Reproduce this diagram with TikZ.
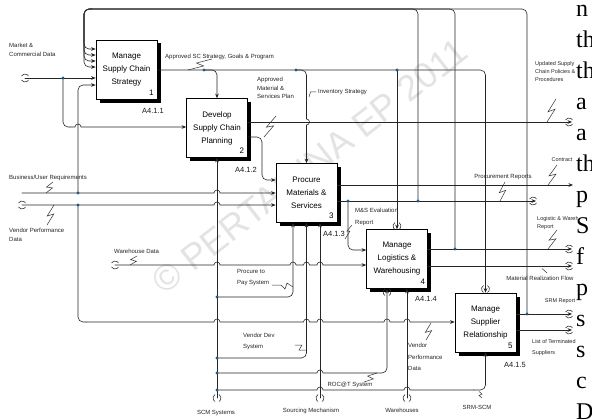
\documentclass[tikz,border=0pt]{standalone}
\usepackage{fontspec}
\setmainfont{Liberation Sans}
\newfontfamily\pagefont{Liberation Serif}
\usetikzlibrary{arrows.meta,calc,shadows}
\definecolor{dotblue}{HTML}{1F5A85}
\newcommand\tunH[2]{\draw[tun] (#1,#2) ++(-3.46,-2) arc(210:330:4) (#1,#2) ++(-3.46,2) arc(150:30:4);}
\newcommand\tunV[2]{\draw[tun] (#1,#2) ++(-2,-3.46) arc(240:120:4) (#1,#2) ++(2,-3.46) arc(-60:60:4);}
\newcommand\jd[1]{\fill[dotblue] (#1) circle (1.7);}
\newcommand\zz[4]{%
 \pgfmathsetmacro\zdx{#3-#1}\pgfmathsetmacro\zdy{#4-#2}%
 \pgfmathsetmacro\zl{veclen(\zdx,\zdy)}%
 \pgfmathsetmacro\zpx{-2.8*\zdy/\zl}\pgfmathsetmacro\zpy{2.8*\zdx/\zl}%
 \draw[sq] (#1,#2) -- ({#1+0.6*\zdx+\zpx},{#2+0.6*\zdy+\zpy}) -- ({#1+0.4*\zdx-\zpx},{#2+0.4*\zdy-\zpy}) -- (#3,#4);}
\begin{document}
\begin{tikzpicture}[x=1pt,y=-1pt,line cap=round,
  ln/.style={draw=black!85, line width=0.6pt, rounded corners=5pt},
  ar/.style={ln, -{Stealth[length=4.5pt,width=3.6pt]}},
  tun/.style={draw=black!85, line width=0.55pt},
  sq/.style={draw=black!80, line width=0.5pt, line join=miter},
  lbl/.style={font=\fontsize{6}{8.5}\selectfont, text=black!85, inner sep=0pt, align=left},
  rlbl/.style={lbl, font=\fontsize{5.5}{8}\selectfont},
  anum/.style={font=\fontsize{7.5}{9}\selectfont, text=black!90, inner sep=0pt},
  bnum/.style={font=\fontsize{8}{9}\selectfont, inner sep=0pt},
  box/.style={draw=black, line width=0.7pt, fill=white, minimum width=61pt, minimum height=59pt,
    inner sep=0pt, align=center, font=\fontsize{8}{13}\selectfont,
    general shadow={fill=black, shadow xshift=3.5pt, shadow yshift=-3.5pt}},
  pg/.style={font=\pagefont\fontsize{24}{24}\selectfont, anchor=base west, inner sep=0pt}]
\useasboundingbox (0,0) rectangle (592,420);
\fill[white] (0,0) rectangle (592,420);
% watermark
\node[font=\fontsize{36}{36}\selectfont, text=black!11, rotate=38, inner sep=0pt] (wm) at (310,166) {\textcopyright{} PERTAMINA EP 2011};
% boxes
\node[box] (b1) at (126.5,69.5) {Manage\\Supply Chain\\Strategy};
\node[box] (b2) at (217,128) {Develop\\Supply Chain\\Planning};
\node[box] (b3) at (306.5,193) {Procure\\Materials \&\\Services};
\node[box] (b4) at (397,259) {Manage\\Logistics \&\\Warehousing};
\node[box] (b5) at (485.5,322.5) {Manage\\Supplier\\Relationship};
\node[bnum] (n1) at ($(b1.south east)+(-6,-7)$) {1};
\node[bnum] (n2) at ($(b2.south east)+(-6,-7)$) {2};
\node[bnum] (n3) at ($(b3.south east)+(-6,-7)$) {3};
\node[bnum] (n4) at ($(b4.south east)+(-5,-7)$) {4};
\node[bnum] (n5) at ($(b5.south east)+(-6,-7)$) {5};
\node[anum] (a1) at (153,111) {A4.1.1};
\node[anum] (a2) at (246,170) {A4.1.2};
\node[anum] (a3) at (334,234) {A4.1.3};
\node[anum] (a4) at (426,299) {A4.1.4};
\node[anum] (a5) at (515,365) {A4.1.5};
% feedback over the top into box 1
\draw[ar] (527,314) -- (527,9) -- (84,9) -- (84,49) -- (b1.west|-0,49);
\draw[ar] (455,249) -- (455,9) -- (84,9) -- (84,55) -- (b1.west|-0,55);
\draw[ar] (418,201) -- (418,9) -- (84,9) -- (84,61) -- (b1.west|-0,61);
\draw[ar] (92,9) -- (84,9) -- (84,67) -- (b1.west|-0,67);
% market data
\draw[ar] (25,78) -- (b1.west|-0,78);
\draw[ln] (63,78) -- (63,127) -- (70,127);
\draw[ar,sharp corners] (70,127) -- (75,127) arc(180:360:3) -- (b2.west|-0,127);
% left inputs
\draw[ar] (78,193) -- (78,85) -- (b1.west|-0,85);
\draw[ar,sharp corners] (22,193) -- (214,193) arc(180:360:3) -- (b3.west|-0,193);
\draw[ar,sharp corners] (22,205) -- (214,205) arc(180:360:3) -- (b3.west|-0,205);
\draw[ln] (78,205) -- (78,322) -- (86,322);
\draw[ar,sharp corners] (86,322) -- (214,322) arc(180:360:3) -- (303.5,322) arc(180:360:3) -- (317,322) arc(180:360:3) -- (384,322) arc(180:360:3) -- (404,322) arc(180:360:3) -- (b5.west|-0,322);
% box 1 output and controls
\draw[ar] (b1.east|-0,70) -- (485.5,70) -- (b5.north);
\draw[ar] (204,70) -- (217,70) -- (b2.north);
\draw[ln] (296,70) -- (306.5,70) -- (306.5,110);
\draw[ar,sharp corners] (306.5,110) -- (306.5,119) arc(-90:90:3) -- (b3.north);
\draw[ar] (397,70) -- (b4.north);
% box 2 outputs
\draw[ar] (b2.east|-0,122) -- (572,122);
\draw[ar] (b2.east|-0,137) -- (262,137) -- (262,180) -- (b3.west|-0,180);
% box 3 outputs
\draw[ar] (b3.east|-0,185) -- (573,185);
\draw[ar] (b3.east|-0,201) -- (536,201);
\draw[ar] (348,201) -- (348,250) -- (b4.west|-0,250);
% warehouse data
\draw[ar,sharp corners] (115,265) -- (214,265) arc(180:360:3) -- (290,265) arc(180:360:3) -- (303.5,265) arc(180:360:3) -- (317,265) arc(180:360:3) -- (b4.west|-0,265);
% box 4 outputs
\draw[ar] (b4.east|-0,249) -- (572,249);
\draw[ar] (b4.east|-0,266) -- (572,266);
% box 5 outputs
\draw[ar] (b5.east|-0,314) -- (572,314);
\draw[ar] (b5.east|-0,330) -- (572,330);
% mechanisms
\draw[ar] (217,398) -- (b2.south);
\draw[ar] (217,297) -- (293,297) -- (293,0|-b3.south);
\draw[ar] (217,358) -- (306.5,358) -- (306.5,0|-b3.south);
\draw[ar] (320,398) -- (320,0|-b3.south);
\draw[ln,sharp corners] (217,373) -- (317,373) arc(180:360:3) -- (376,373);
\draw[ar] (376,373) -- (387,373) -- (387,0|-b4.south);
\draw[ar] (407,398) -- (407,0|-b4.south);
\draw[ln,sharp corners] (217,390) -- (317,390) arc(180:360:3) -- (404,390) arc(180:360:3) -- (474,390);
\draw[ar] (474,390) -- (485.5,390) -- (b5.south);
% tunnels
\tunH{25}{78}
\tunH{22}{205}
\tunH{115}{265}
\tunH{569}{122}
\tunH{533}{201}
\tunH{569}{249}
\tunH{569}{266}
\tunH{569}{314}
\tunH{569}{330}
\tunV{217}{398}
\tunV{320}{398}
\tunV{407}{398}
\tunV{397}{226}
\tunV{485.5}{289}
\tunV{387}{292}
% junction dots
\jd{63,78} \jd{78,193} \jd{78,205} \jd{204,70} \jd{296,70} \jd{397,70}
\jd{348,201} \jd{418,201} \jd{455,249} \jd{527,314}
\jd{217,297} \jd{217,358} \jd{217,373} \jd{217,390}
% labels
\node[lbl, anchor=north west] (l1) at (9,43) {Market \&\\Commercial Data};
\node[lbl, anchor=west] (l2) at (165,57) {Approved SC Strategy, Goals \& Program};
\zz{212}{59}{188}{70}
\node[lbl, anchor=north west] (l3) at (257,77) {Approved\\Material \&\\Services Plan};
\zz{276}{116}{264}{137}
\node[lbl, anchor=west] (l4) at (318,92) {Inventory Strategy};
\draw[sq] (309,97) -- (310.5,92) -- (316,92);
\node[rlbl, anchor=north west] (l5) at (535,61) {Updated Supply\\Chain Policies \&\\Procedures};
\zz{556}{99}{547}{122}
\node[lbl, anchor=west] (l6) at (9,178) {Business/User Requirements};
\zz{53}{182}{46}{193}
\node[lbl, anchor=north west] (l7) at (9,228) {Vendor Performance\\Data};
\zz{54}{205}{47}{225}
\node[lbl, anchor=west] (l8) at (114,251) {Warehouse Data};
\zz{137}{256}{130}{265}
\node[lbl, anchor=north west, font=\fontsize{6}{11.5}\selectfont] (l9) at (237,269) {Procure to\\Pay System};
\draw[sq] (272,285) -- (281,285) -- (285,289) -- (287,283) -- (293,287);
\node[lbl, anchor=north west, font=\fontsize{6}{11}\selectfont] (l10) at (243,333) {Vendor Dev\\System};
\draw[sq] (295,345) -- (302,345) -- (299,350) -- (306.5,350);
\node[lbl, anchor=north west, font=\fontsize{6}{12}\selectfont] (l11) at (355,208) {M\&S Evaluation\\Report};
\draw[sq] (345,239) -- (350,231) -- (347,231) -- (352,225);
\node[lbl] (l12) at (503,177) {Procurement Reports};
\zz{505}{182}{500}{201}
\node[rlbl] (l13) at (562,160) {Contract};
\zz{557}{165}{548}{185}
\node[rlbl, anchor=north west, font=\fontsize{5.5}{8}\selectfont] (l14) at (537,216) {Logistic \& Warehouse\\Report};
\zz{557}{230}{548}{249}
\node[lbl] (l15) at (540,278) {Material Realization Flow};
\draw[sq] (542,268.5) -- (547,273);
\node[rlbl] (l16) at (560,301) {SRM Report};
\node[rlbl, anchor=north west, font=\fontsize{5.5}{11}\selectfont] (l17) at (532,339) {List of Terminated\\Suppliers};
\node[lbl, anchor=north west, font=\fontsize{6}{11.5}\selectfont] (l18) at (408,343) {Vendor\\Performance\\Data};
\zz{431}{323}{426}{340}
\node[lbl] (l19) at (350,385) {ROC@T System};
\zz{377}{373}{364}{382}
\node[lbl] (l20) at (216,413) {SCM Systems};
\node[lbl] (l21) at (311,411) {Sourcing Mechanism};
\node[lbl] (l22) at (402,410) {Warehouses};
\node[lbl] (l23) at (477,407) {SRM-SCM};
\draw[sq] (479,391.5) -- (482,394) -- (479,395.5) -- (482,398);
% page text column at the right edge
\fill[white] (577.5,0) rectangle (592,420);
\node[pg] (p1) at (576,16.5) {n};
\node[pg] (p2) at (576,47.5) {th};
\node[pg] (p3) at (576,78.5) {th};
\node[pg] (p4) at (576,109.5) {a};
\node[pg] (p5) at (576,140.5) {a};
\node[pg] (p6) at (576,171.5) {th};
\node[pg] (p7) at (576,202.5) {p};
\node[pg] (p8) at (576,233.5) {S};
\node[pg] (p9) at (576,264.5) {f};
\node[pg] (p10) at (576,295.5) {p};
\node[pg] (p11) at (576,326.5) {s};
\node[pg] (p12) at (576,357.5) {s};
\node[pg] (p13) at (576,388.5) {c};
\node[pg] (p14) at (576,419.5) {D};
\end{tikzpicture}
\end{document}
